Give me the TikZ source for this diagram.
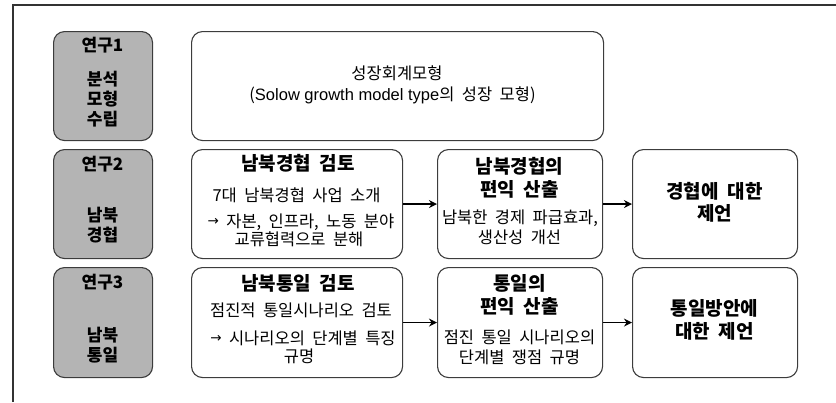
\documentclass[tikz,border=0pt]{standalone}
\usepackage{fontspec}
\setmainfont{Noto Sans CJK KR}[WordSpace=2]
\newfontfamily\latinfont{Liberation Sans}
\newfontfamily\arrowfont{DejaVu Sans}
\newcommand{\smallarrow}{\raisebox{1.5pt}{\arrowfont\fontsize{13.5}{14}\selectfont →}}
\usetikzlibrary{arrows.meta}
\definecolor{framecol}{HTML}{333333}
\definecolor{boxline}{HTML}{3C3C3C}
\definecolor{grayfill}{HTML}{B4B4B4}
\begin{document}
\begin{tikzpicture}[x=1pt,y=-1pt,
  box/.style={draw=boxline, line width=1.1pt, rounded corners=11pt, inner sep=0pt, anchor=north west},
  graybox/.style={box, fill=grayfill},
  txt/.style={inner sep=0pt, text height=0.78em, text depth=0.1em, anchor=center},
  body/.style={txt, font=\fontsize{16.5}{19}\selectfont},
  ttl/.style={txt, font=\bfseries\fontsize{19}{22}\selectfont},
  lab/.style={txt, font=\bfseries\fontsize{17}{20}\selectfont},
  flow/.style={line width=1.8pt, -{Stealth[length=8pt,width=8pt]}}
]
\useasboundingbox (0,0) rectangle (836,402);
% outer frame
\coordinate (fa) at (13,402);
\coordinate (fb) at (13,5);
\coordinate (fc) at (836,5);
\draw[framecol, line width=1.6pt] (fa) -- (fb) -- (fc);

% gray label boxes
\node[graybox, minimum width=99pt, minimum height=109pt] (g1) at (53,31) {};
\node[graybox, minimum width=99pt, minimum height=109pt] (g2) at (53,149) {};
\node[graybox, minimum width=99pt, minimum height=110pt] (g3) at (53,267) {};

% row 1
\node[box, minimum width=412pt, minimum height=109pt] (w1) at (191,31) {};
% row 2
\node[box, minimum width=211pt, minimum height=109pt] (a2) at (191,149) {};
\node[box, minimum width=165pt, minimum height=109pt] (b2) at (437,149) {};
\node[box, minimum width=165pt, minimum height=109pt] (c2) at (632,149) {};
% row 3
\node[box, minimum width=211pt, minimum height=110pt] (a3) at (191,267) {};
\node[box, minimum width=165pt, minimum height=110pt] (b3) at (437,267) {};
\node[box, minimum width=165pt, minimum height=110pt] (c3) at (632,267) {};

% arrows
\draw[flow] (a2) -- (b2);
\draw[flow] (b2) -- (c2);
\draw[flow] (a3) -- (b3);
\draw[flow] (b3) -- (c3);

% gray label texts
\node[lab] (g1t1) at (102.5,48) {연구1};
\node[lab] (g1t2) at (102.5,82) {분석};
\node[lab] (g1t3) at (102.5,102) {모형};
\node[lab] (g1t4) at (102.5,122) {수립};
\node[lab] (g2t1) at (102.5,167) {연구2};
\node[lab] (g2t2) at (102.5,218) {남북};
\node[lab] (g2t3) at (102.5,238) {경협};
\node[lab] (g3t1) at (102.5,285) {연구3};
\node[lab] (g3t2) at (102.5,338) {남북};
\node[lab] (g3t3) at (102.5,358) {통일};

% row 1 text
\node[body] (w1t1) at (397,76) {성장회계모형};
\node[body] (w1t2) at (392.5,97) {({\latinfont Solow growth model type}의 성장 모형)};

% row 2 texts
\node[ttl] (a2t1) at (298,167) {남북경협 검토};
\node[body] (a2t2) at (296.5,198) {7대 남북경협 사업 소개};
\node[body] (a2t3) at (301,224) {\smallarrow{} 자본, 인프라, 노동 분야};
\node[body] (a2t4) at (299,242) {교류협력으로 분해};
\node[ttl] (b2t1) at (519.5,170) {남북경협의};
\node[ttl] (b2t2) at (519.5,193) {편익 산출};
\node[body] (b2t3) at (520,220) {남북한 경제 파급효과,};
\node[body] (b2t4) at (519.5,240) {생산성 개선};
\node[ttl] (c2t1) at (714.5,195) {경협에 대한};
\node[ttl] (c2t2) at (714.5,217) {제언};

% row 3 texts
\node[ttl] (a3t1) at (298,287) {남북통일 검토};
\node[body] (a3t2) at (301,313) {점진적 통일시나리오 검토};
\node[body] (a3t3) at (303,341) {\smallarrow{} 시나리오의 단계별 특징};
\node[body] (a3t4) at (299,359) {규명};
\node[ttl] (b3t1) at (519.5,287) {통일의};
\node[ttl] (b3t2) at (519.5,310) {편익 산출};
\node[body] (b3t3) at (519.5,340) {점진 통일 시나리오의};
\node[body] (b3t4) at (519.5,360) {단계별 쟁점 규명};
\node[ttl] (c3t1) at (714.5,312) {통일방안에};
\node[ttl] (c3t2) at (714.5,335) {대한 제언};
\end{tikzpicture}
\end{document}
